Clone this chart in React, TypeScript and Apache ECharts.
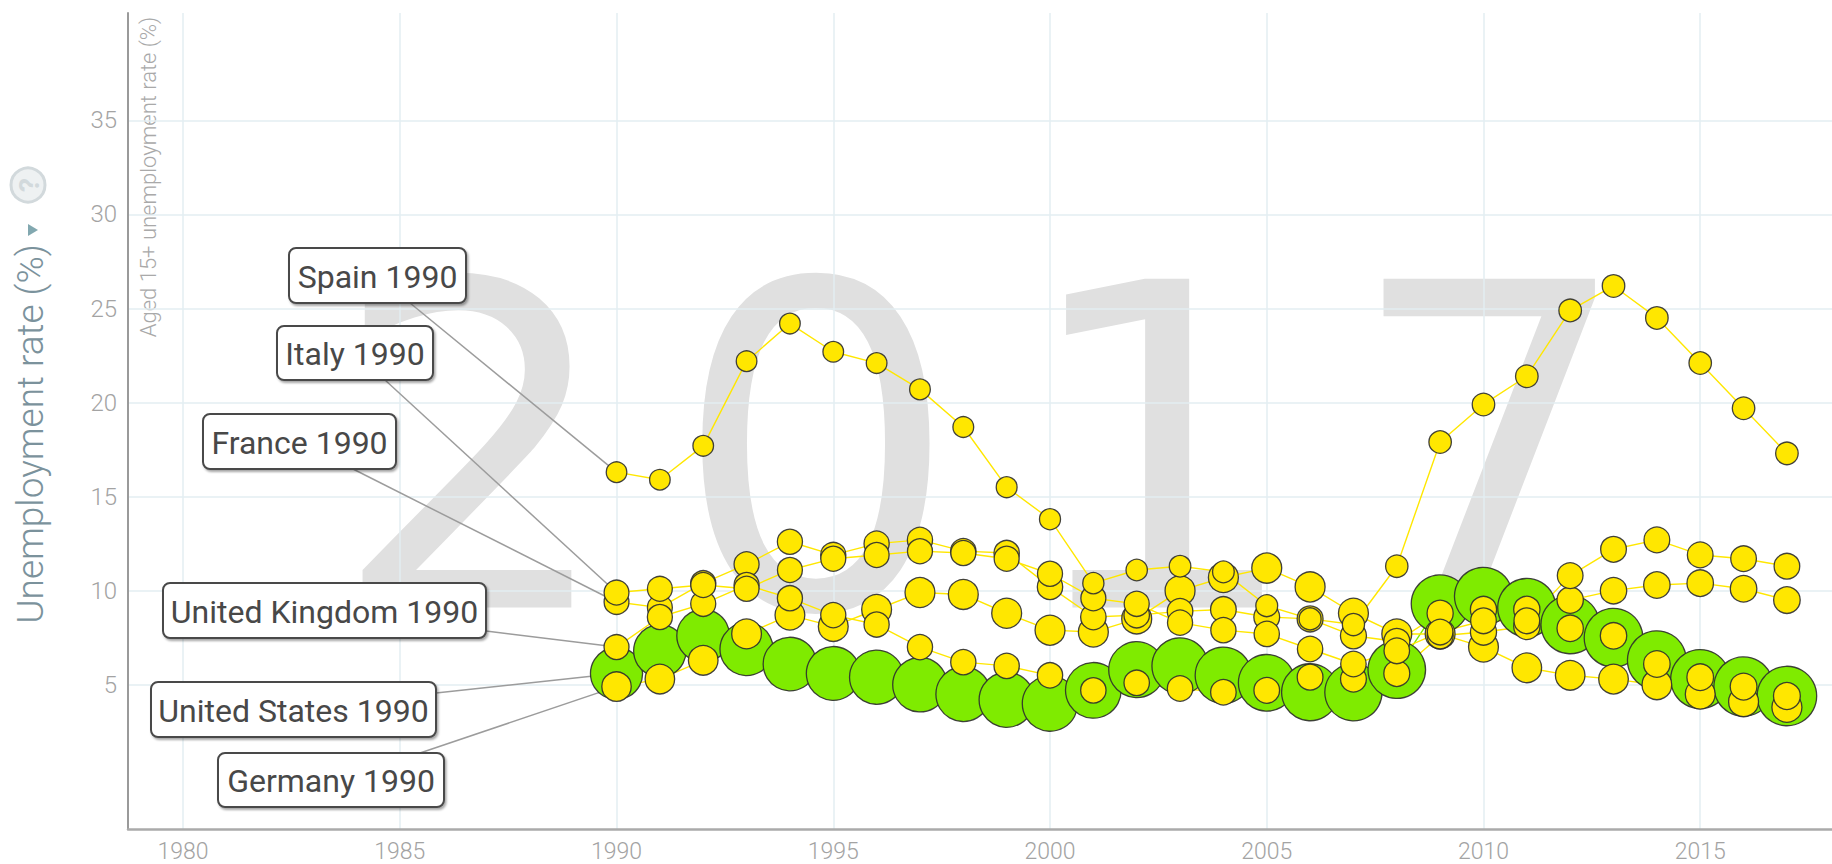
import React, { useEffect, useRef } from "react";
import * as echarts from "echarts";

const years = [1990, 1991, 1992, 1993, 1994, 1995, 1996, 1997, 1998, 1999, 2000, 2001, 2002, 2003, 2004, 2005, 2006, 2007, 2008, 2009, 2010, 2011, 2012, 2013, 2014, 2015, 2016, 2017];

// Aged 15+ unemployment rate (%)
const usRate = [5.6, 6.8, 7.6, 6.9, 6.1, 5.6, 5.4, 5.0, 4.5, 4.2, 4.0, 4.7, 5.8, 6.0, 5.5, 5.1, 4.6, 4.6, 5.8, 9.3, 9.7, 9.1, 8.2, 7.5, 6.3, 5.3, 4.9, 4.4];
const germanyRate = [4.9, 5.3, 6.3, 7.7, 8.7, 8.1, 9.0, 9.9, 9.8, 8.8, 7.9, 7.8, 8.5, 10.0, 10.7, 11.2, 10.2, 8.8, 7.7, 7.7, 7.0, 5.9, 5.5, 5.3, 5.0, 4.5, 4.1, 3.8];
const franceRate = [9.4, 9.1, 10.4, 11.4, 12.6, 11.9, 12.5, 12.7, 12.1, 12.0, 10.2, 8.6, 8.7, 8.9, 9.0, 8.6, 8.5, 7.6, 7.3, 8.8, 9.0, 9.0, 9.5, 10.0, 10.3, 10.4, 10.1, 9.5];
const ukRate = [7.0, 8.6, 9.3, 10.3, 9.6, 8.7, 8.2, 7.0, 6.2, 6.0, 5.5, 4.7, 5.1, 4.8, 4.6, 4.7, 5.4, 5.3, 5.6, 7.6, 7.8, 8.1, 8.0, 7.6, 6.1, 5.4, 4.9, 4.4];
const italyRate = [9.9, 10.1, 10.3, 10.1, 11.1, 11.7, 11.9, 12.1, 12.0, 11.7, 10.9, 9.6, 9.3, 8.3, 7.9, 7.7, 6.9, 6.1, 6.8, 7.8, 8.4, 8.4, 10.8, 12.2, 12.7, 11.9, 11.7, 11.3];
const spainRate = [16.3, 15.9, 17.7, 22.2, 24.2, 22.7, 22.1, 20.7, 18.7, 15.5, 13.8, 10.4, 11.1, 11.3, 11.0, 9.2, 8.5, 8.2, 11.3, 17.9, 19.9, 21.4, 24.9, 26.2, 24.5, 22.1, 19.7, 17.3];

// Population (millions) -> bubble size
const usPop = [249.6, 253.0, 256.5, 259.9, 263.1, 266.3, 269.4, 272.7, 275.9, 279.0, 282.2, 285.0, 287.6, 290.1, 292.8, 295.5, 298.4, 301.2, 304.1, 306.8, 309.3, 311.6, 313.9, 316.1, 318.4, 320.7, 323.1, 325.1];
const germanyPop = [79.4, 80.0, 80.6, 81.2, 81.4, 81.7, 81.9, 82.0, 82.0, 82.1, 82.2, 82.3, 82.5, 82.5, 82.5, 82.5, 82.4, 82.3, 82.1, 81.9, 81.8, 80.3, 80.4, 80.6, 81.0, 81.7, 82.3, 82.7];
const francePop = [56.7, 57.0, 57.3, 57.6, 57.8, 58.0, 58.2, 58.4, 58.6, 58.9, 59.0, 59.4, 59.8, 60.2, 60.6, 61.1, 61.6, 62.0, 62.4, 62.7, 63.0, 63.4, 63.7, 64.0, 64.3, 64.5, 64.7, 64.8];
const ukPop = [57.2, 57.4, 57.6, 57.7, 57.9, 58.0, 58.2, 58.3, 58.5, 58.7, 58.9, 59.1, 59.4, 59.6, 59.9, 60.4, 60.8, 61.3, 61.8, 62.3, 62.8, 63.3, 63.7, 64.1, 64.6, 65.1, 65.6, 66.1];
const italyPop = [56.7, 56.8, 56.9, 57.0, 57.1, 57.2, 57.2, 57.3, 57.3, 57.4, 57.5, 57.5, 57.6, 57.9, 58.4, 58.8, 59.1, 59.5, 59.9, 60.2, 60.5, 60.6, 60.7, 60.8, 60.8, 60.6, 60.5, 60.4];
const spainPop = [38.9, 38.9, 39.0, 39.1, 39.1, 39.2, 39.3, 39.4, 39.7, 40.0, 40.6, 41.3, 42.0, 42.7, 43.2, 43.9, 44.5, 45.2, 45.9, 46.4, 46.6, 46.7, 46.8, 46.6, 46.5, 46.4, 46.5, 46.6];

const countryNames = ["United States", "Germany", "France", "United Kingdom", "Italy", "Spain"];
const rates = [usRate, germanyRate, franceRate, ukRate, italyRate, spainRate];
const pops = [usPop, germanyPop, francePop, ukPop, italyPop, spainPop];
const colors = ["#7feb00", "#ffe700", "#ffe700", "#ffe700", "#ffe700", "#ffe700"];

const xTicks = [1980, 1985, 1990, 1995, 2000, 2005, 2010, 2015];
const yTicks = [5, 10, 15, 20, 25, 30, 35];
const yearText = "2017";
const yTitle = "Unemployment rate (%)";
const ySubTitle = "Aged 15+ unemployment rate (%)";

// label boxes (layout, pixels): x0, y0, x1, y1, anchorX, anchorY
const labelBoxes: Record<string, number[]> = {
  "Spain": [289, 248, 466, 303, 410, 303],
  "Italy": [277, 326, 433, 380, 385, 380],
  "France": [203, 414, 396, 469, 353, 469],
  "United Kingdom": [163, 583, 486, 638, 486, 631],
  "United States": [151, 682, 436, 737, 436, 693],
  "Germany": [218, 753, 444, 807, 420, 753],
};

const FONT = "Roboto, 'Open Sans', sans-serif";

export default function App() {
  const ref = useRef<HTMLDivElement>(null);
  useEffect(() => {
    if (!ref.current) return;
    const chart = echarts.init(ref.current, null, { renderer: "svg" });

    const series: any[] = countryNames.map((name, ci) => ({
      name,
      type: "line",
      data: years.map((y, i) => [y, rates[ci][i], pops[ci][i]]),
      symbol: "circle",
      symbolSize: (v: number[]) => 3.3 * Math.sqrt(v[2]),
      showSymbol: true,
      showAllSymbol: true,
      silent: true,
      z: 2,
      lineStyle: { color: colors[ci], width: 1.4 },
      itemStyle: { color: colors[ci], borderColor: "rgba(45,45,45,0.9)", borderWidth: 1.3, opacity: 1 },
      emphasis: { disabled: true },
      markLine: {
        silent: true,
        z: 1,
        symbol: ["none", "none"],
        label: { show: false },
        emphasis: { disabled: true },
        lineStyle: { color: "#9c9c9c", width: 1.5, type: "solid" },
        data: [[
          { x: labelBoxes[name][4], y: labelBoxes[name][5] },
          { coord: [years[0], rates[ci][0]] },
        ]],
      },
    }));

    const labelGraphics = countryNames.map((name) => {
      const b = labelBoxes[name];
      return {
        type: "group",
        z: 20,
        silent: true,
        children: [
          {
            type: "rect",
            z: 20,
            shape: { x: b[0], y: b[1], width: b[2] - b[0], height: b[3] - b[1], r: 7 },
            style: {
              fill: "#ffffff",
              stroke: "#4a4a4a",
              lineWidth: 2,
              shadowBlur: 2,
              shadowOffsetX: 1.5,
              shadowOffsetY: 2,
              shadowColor: "rgba(0,0,0,0.35)",
            },
          },
          {
            type: "text",
            z: 21,
            x: (b[0] + b[2]) / 2,
            y: (b[1] + b[3]) / 2 + 1,
            style: {
              text: name + " " + years[0],
              fontSize: 32,
              fontFamily: FONT,
              fill: "#484848",
              align: "center",
              verticalAlign: "middle",
            },
          },
        ],
      };
    });

    const digitX = [473, 816, 1160, 1490];
    const yearGraphics = yearText.split("").map((ch, i) => ({
      type: "text",
      z: -5,
      silent: true,
      x: digitX[i],
      y: 451,
      style: {
        text: ch,
        fontSize: 451,
        fontFamily: "'DejaVu Sans', sans-serif",
        fill: "#e0e0e0",
        align: "center",
        verticalAlign: "middle",
      },
    }));

    chart.setOption({
      animation: false,
      grid: { left: 128, top: 13, right: 0, bottom: 35, containLabel: false },
      xAxis: {
        type: "value",
        min: 1978.73,
        max: 2018.04,
        axisLine: { show: true, onZero: false, lineStyle: { color: "#aaaaaa", width: 2.5 } },
        axisTick: { show: false, customValues: xTicks },
        splitLine: { show: true, lineStyle: { color: "#e3eef2", width: 1.5 } },
        axisLabel: {
          customValues: xTicks,
          color: "#a3a3a3",
          fontSize: 23,
          fontFamily: FONT,
          fontWeight: 300,
          margin: 11,
          formatter: (v: number) => String(v),
        },
      },
      yAxis: {
        type: "value",
        min: -2.67,
        max: 40.71,
        axisLine: { show: true, onZero: false, lineStyle: { color: "#9a9a9a", width: 2 } },
        axisTick: { show: false, customValues: yTicks },
        splitLine: { show: true, lineStyle: { color: "#e3eef2", width: 1.5 } },
        axisLabel: {
          customValues: yTicks,
          color: "#a3a3a3",
          fontSize: 24,
          fontFamily: FONT,
          fontWeight: 300,
          margin: 11,
          formatter: (v: number) => String(v),
        },
      },
      graphic: {
        elements: [
          ...yearGraphics,
          {
            type: "text",
            silent: true,
            x: 30,
            y: 434,
            rotation: Math.PI / 2,
            style: { text: yTitle, fontSize: 37, fontFamily: FONT, fontWeight: 300, fill: "#7b929c", align: "center", verticalAlign: "middle" },
          },
          {
            type: "polygon",
            silent: true,
            shape: { points: [[28, 224], [28, 236], [38, 230]] },
            style: { fill: "#82a8b0" },
          },
          {
            type: "circle",
            silent: true,
            shape: { cx: 28, cy: 185, r: 17 },
            style: { fill: "#eef1f2", stroke: "#d2d9dc", lineWidth: 3 },
          },
          {
            type: "text",
            silent: true,
            x: 29,
            y: 185,
            rotation: Math.PI / 2,
            style: { text: "?", fontSize: 28, fontWeight: "bold", fontFamily: FONT, fill: "#d2d9dc", align: "center", verticalAlign: "middle" },
          },
          {
            type: "text",
            silent: true,
            x: 148,
            y: 177,
            rotation: Math.PI / 2,
            style: { text: ySubTitle, fontSize: 22, fontFamily: FONT, fontWeight: 300, fill: "#a9a9a9", align: "center", verticalAlign: "middle" },
          },
          ...labelGraphics,
        ],
      },
      series,
    });

    return () => chart.dispose();
  }, []);

  return (
    <div
      ref={ref}
      style={{ position: "fixed", left: 0, top: 0, width: 1832, height: 864, background: "#fff" }}
    />
  );
}
